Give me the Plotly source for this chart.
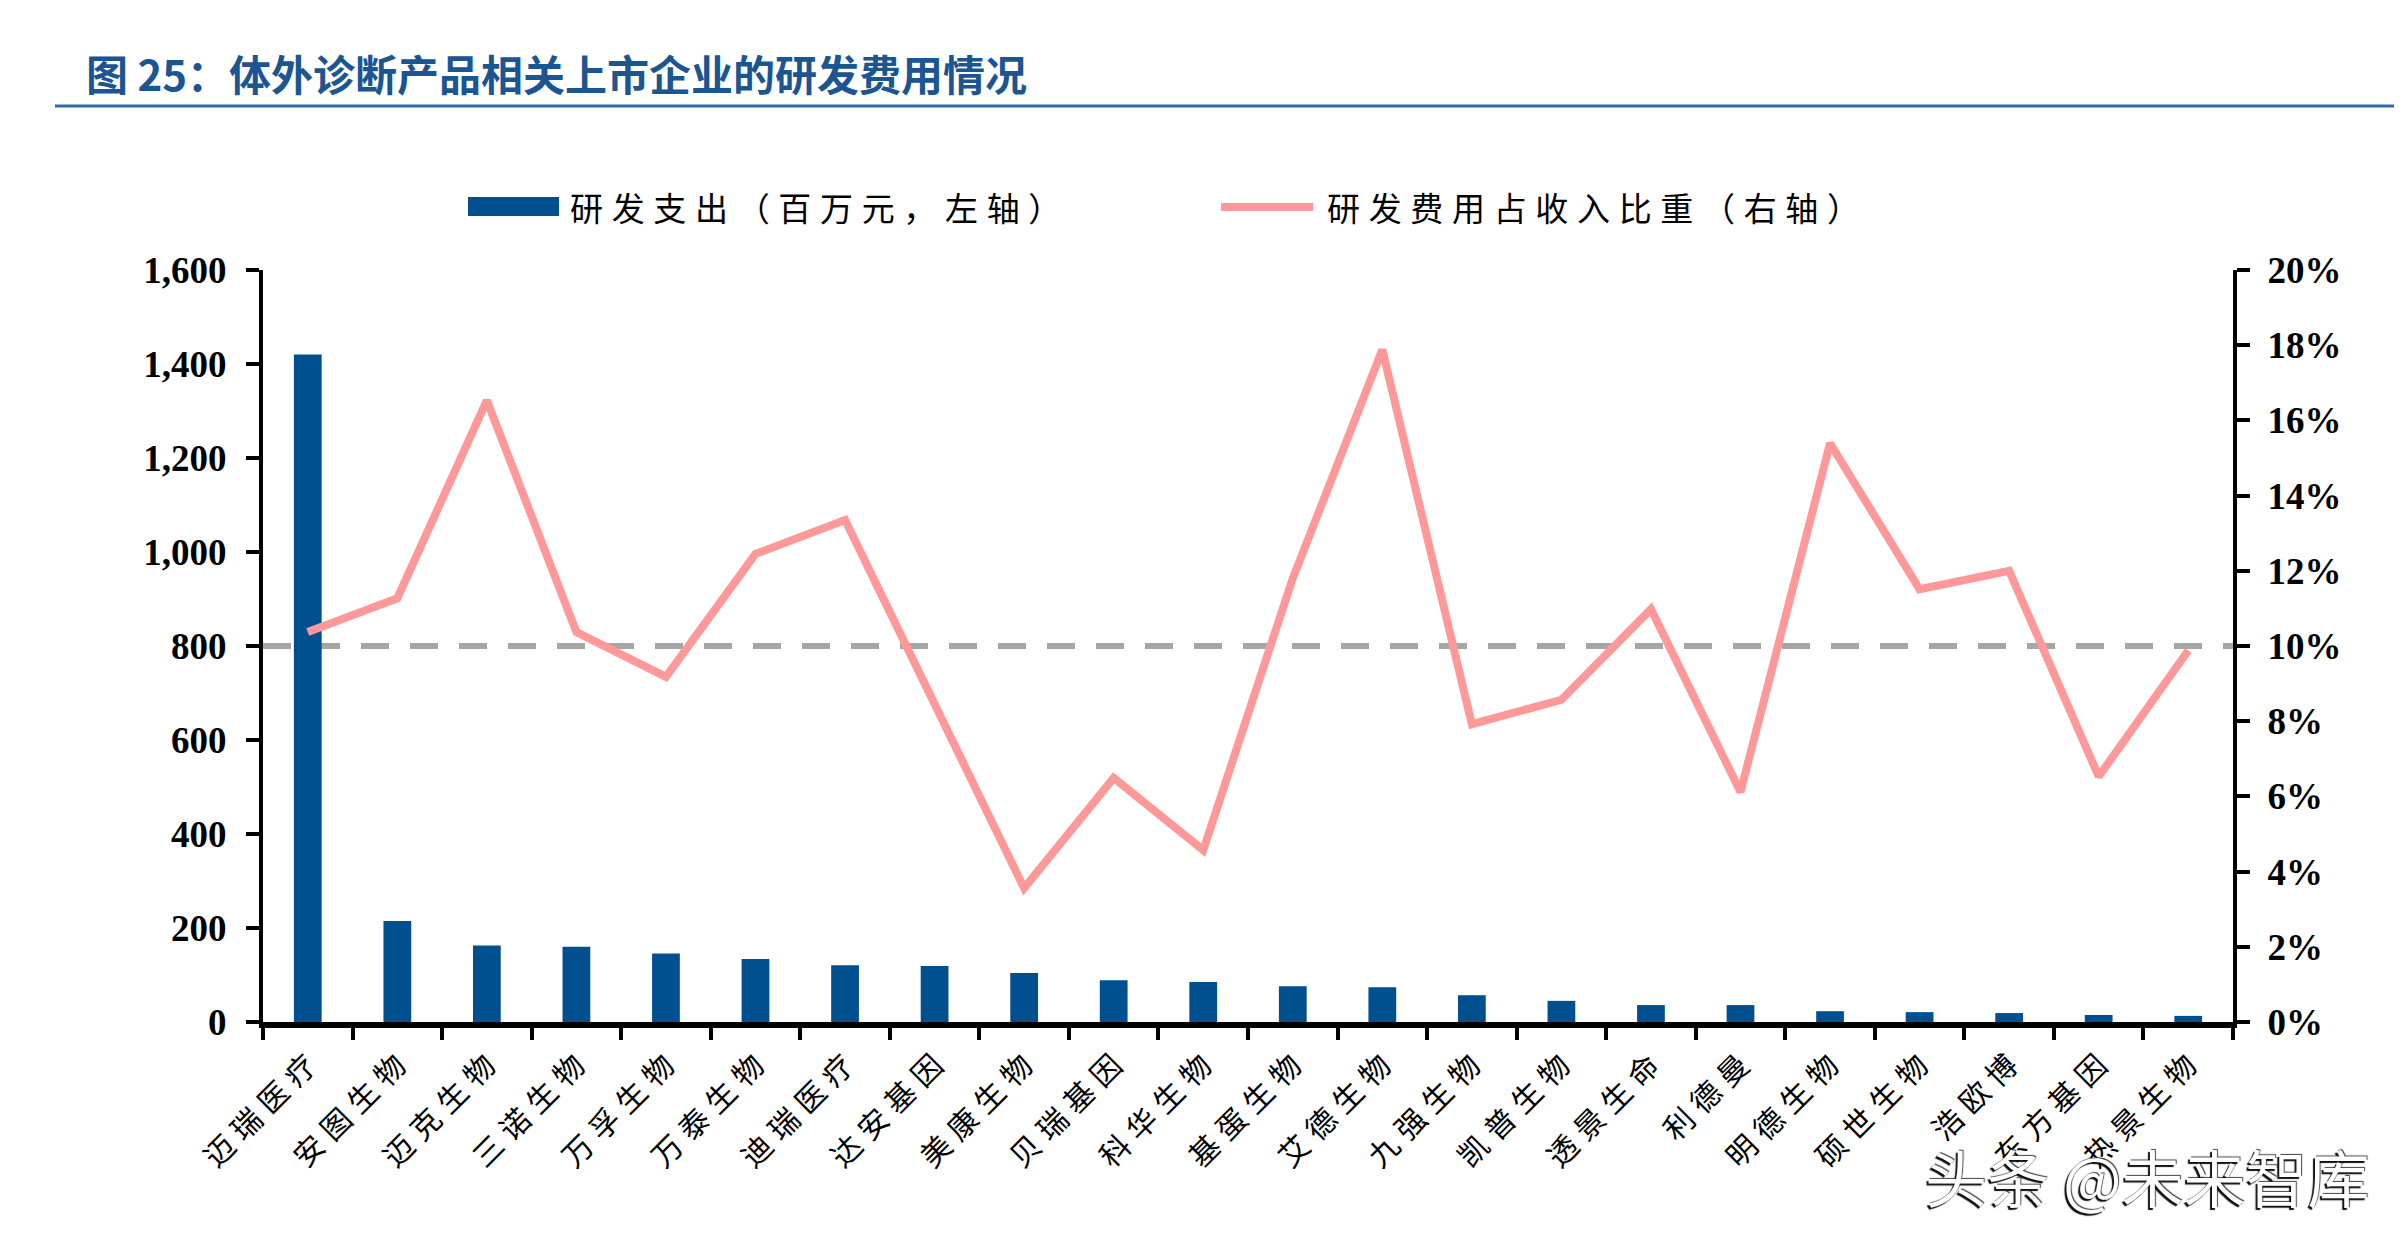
import plotly.graph_objects as go

# 数据：体外诊断上市企业研发费用
companies = ["迈瑞医疗", "安图生物", "迈克生物", "三诺生物", "万孚生物", "万泰生物",
             "迪瑞医疗", "达安基因", "美康生物", "贝瑞基因", "科华生物", "基蛋生物",
             "艾德生物", "九强生物", "凯普生物", "透景生命", "利德曼", "明德生物",
             "硕世生物", "浩欧博", "东方基因", "热景生物"]
rd_spend = [1420, 215, 163, 160, 146, 134, 121, 119, 104, 89, 85, 76,
            74, 57, 45, 36, 36, 23, 21, 19, 15, 13]
rd_ratio = [0.1037, 0.1127, 0.1653, 0.1037, 0.0918, 0.1245, 0.1335, 0.0846,
            0.0356, 0.0649, 0.0457, 0.1180, 0.1788, 0.0792, 0.0857, 0.1098,
            0.0612, 0.1539, 0.1151, 0.1200, 0.0653, 0.0988]
ref_level = 800  # 虚线：左轴 800 / 右轴 10%

# 页面像素（浏览器 body 有 8px 外边距）
W, H = 2402, 1242
OFF = 8
PLOT_L, PLOT_R, PLOT_T, PLOT_B = 263, 2233, 270, 1022
PW, PH = PLOT_R - PLOT_L, PLOT_B - PLOT_T
FIG_W, FIG_H = W - 2 * OFF, H - 2 * OFF

BAR_COLOR = "#00508F"
LINE_COLOR = "#FF9999"
NUM_FONT = dict(family="Liberation Serif", size=37, color="black", weight="bold")
CJK = "Noto Sans CJK SC"


def px_x(p):
    return (p - PLOT_L) / PW


def px_y(p):
    return (PLOT_B - p) / PH


def spaced(s, sep="\u2009"):
    # 原图中文字间距较宽
    return sep.join(s)


fig = go.Figure()

fig.add_trace(go.Bar(x=companies, y=rd_spend, name="研发支出（百万元，左轴）",
                     marker=dict(color=BAR_COLOR, line=dict(width=0)),
                     showlegend=False))
fig.add_trace(go.Scatter(x=companies, y=rd_ratio, name="研发费用占收入比重（右轴）",
                         mode="lines", line=dict(color=LINE_COLOR, width=8),
                         yaxis="y2", showlegend=False))

shapes = [
    # 参考虚线
    dict(type="line", xref="paper", x0=0, x1=1, yref="y", y0=ref_level, y1=ref_level,
         line=dict(color="#A6A6A6", width=6, dash="28px,21px"), layer="below"),
    # 标题下的横线
    dict(type="line", xref="paper", yref="paper", x0=px_x(55), x1=px_x(W),
         y0=px_y(106), y1=px_y(106), line=dict(color="#2F6AA8", width=3)),
    # 图例色块
    dict(type="rect", xref="paper", yref="paper", x0=px_x(468), x1=px_x(559),
         y0=px_y(216), y1=px_y(197), fillcolor=BAR_COLOR, line=dict(width=0)),
    dict(type="line", xref="paper", yref="paper", x0=px_x(1221), x1=px_x(1313),
         y0=px_y(207), y1=px_y(207), line=dict(color=LINE_COLOR, width=8)),
]

LEG_SEP = "\u2009\u200a"
annotations = [
    dict(text="图 25：体外诊断产品相关上市企业的研发费用情况", xref="paper", yref="paper",
         x=px_x(84), y=px_y(73), xanchor="left", yanchor="middle", showarrow=False,
         font=dict(family=CJK, size=42, color="#1B5592", weight="bold")),
    dict(text=spaced("研发支出（百万元，左轴）", LEG_SEP), xref="paper", yref="paper",
         x=px_x(568), y=px_y(207), xanchor="left", yanchor="middle", showarrow=False,
         font=dict(family=CJK, size=33, color="black")),
    dict(text=spaced("研发费用占收入比重（右轴）", LEG_SEP), xref="paper", yref="paper",
         x=px_x(1325), y=px_y(207), xanchor="left", yanchor="middle", showarrow=False,
         font=dict(family=CJK, size=33, color="black")),
    # 水印
    dict(text="头条 @未来智库", xref="paper", yref="paper",
         x=px_x(2147), y=px_y(1176), xanchor="center", yanchor="middle", showarrow=False,
         font=dict(family=CJK, size=62, color="white",
                   shadow="-2px 2px 1px #111, 1px -1px 1px #444")),
]

fig.update_layout(
    width=FIG_W, height=FIG_H,
    margin=dict(l=PLOT_L - OFF, r=FIG_W - (PLOT_R - OFF), t=PLOT_T - OFF,
                b=FIG_H - (PLOT_B - OFF)),
    plot_bgcolor="white", paper_bgcolor="white",
    bargap=0.69,
    shapes=shapes, annotations=annotations,
    xaxis=dict(showline=True, linecolor="black", linewidth=6,
               ticks="outside", tickson="boundaries", ticklen=12, tickwidth=4,
               tickcolor="black", tickangle=-45,
               tickvals=companies, ticktext=[spaced(c, "\u2009\u200a") for c in companies],
               tickfont=dict(family=CJK, size=30, color="black"), showgrid=False,
               ticklabelstandoff=8),
    yaxis=dict(range=[0, 1600], dtick=200, tickformat=",", showline=True,
               linecolor="black", linewidth=4, ticks="outside", ticklen=13,
               tickwidth=4, tickcolor="black", tickfont=NUM_FONT, showgrid=False,
               zeroline=False, ticklabelstandoff=12),
    yaxis2=dict(range=[0, 0.2], dtick=0.02, tickformat=".0%", overlaying="y",
                side="right", showline=True, linecolor="black", linewidth=4,
                ticks="outside", ticklen=13, tickwidth=4, tickcolor="black",
                tickfont=NUM_FONT, showgrid=False, zeroline=False,
                ticklabelstandoff=10),
)

fig.write_html("out.html")
